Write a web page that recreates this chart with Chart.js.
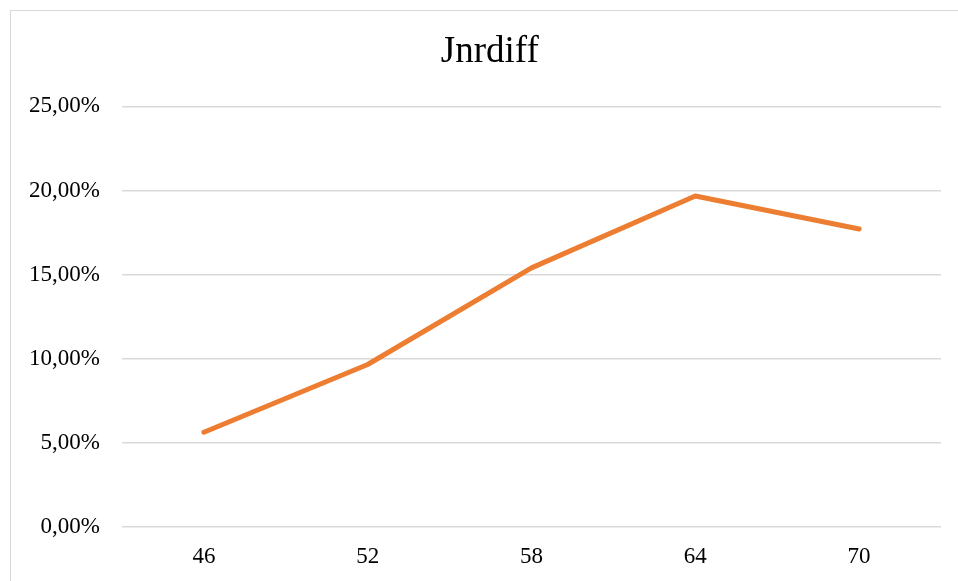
<!DOCTYPE html>
<html>
<head>
<meta charset="utf-8">
<script src="https://cdn.jsdelivr.net/npm/chart.js@4"></script>
<style>
  html, body { margin: 0; padding: 0; background: #fff; overflow: hidden; }
  #frame { position: absolute; left: 10px; top: 10px; width: 980px; height: 600px; border: 1.5px solid #d9d9d9; }
  #wrap { position: absolute; left: 0; top: 0; width: 958px; height: 581px; }
</style>
</head>
<body>
<div id="frame"></div>
<div id="wrap"><canvas id="grafico"></canvas></div>
<script>
// dados
const idades = ['46', '52', '58', '64', '70'];
const jnrdiff = [5.63, 9.66, 15.40, 19.67, 17.71];
const titulo = 'Jnrdiff';

const fonte = "'Liberation Serif', 'Times New Roman', serif";

function formatarPct(v) {
  return v.toFixed(2).replace('.', ',') + '%';
}

const ctx = document.getElementById('grafico');
new Chart(ctx, {
  type: 'line',
  data: {
    labels: idades,
    datasets: [{
      label: titulo,
      data: jnrdiff,
      borderColor: '#ED7D31',
      borderWidth: 5,
      borderCapStyle: 'round',
      borderJoinStyle: 'round',
      pointRadius: 0,
      tension: 0,
      fill: false
    }]
  },
  options: {
    responsive: true,
    maintainAspectRatio: false,
    animation: false,
    layout: { padding: { left: 20, right: 17, top: 0, bottom: 0 } },
    plugins: {
      legend: { display: false },
      tooltip: { enabled: false },
      title: {
        display: true,
        // espaços à esquerda para centrar o título como no original
        text: '\u00a0\u00a0' + titulo,
        color: '#000',
        font: { family: fonte, size: 37, weight: 'normal' },
        padding: { top: 30, bottom: 32 }
      }
    },
    scales: {
      x: {
        offset: true,
        grid: { display: false },
        border: { display: false },
        ticks: { color: '#000', font: { family: fonte, size: 23 }, padding: 8, maxRotation: 0 },
        afterFit: s => { s.height = 54; }
      },
      y: {
        min: 0,
        max: 25,
        grid: { color: '#d9d9d9', lineWidth: 1.5, drawTicks: false },
        border: { display: false },
        ticks: {
          stepSize: 5,
          color: '#000',
          font: { family: fonte, size: 23 },
          padding: 22,
          callback: v => formatarPct(v)
        },
        afterFit: s => { s.width = 102; }
      }
    }
  }
});
</script>
</body>
</html>
